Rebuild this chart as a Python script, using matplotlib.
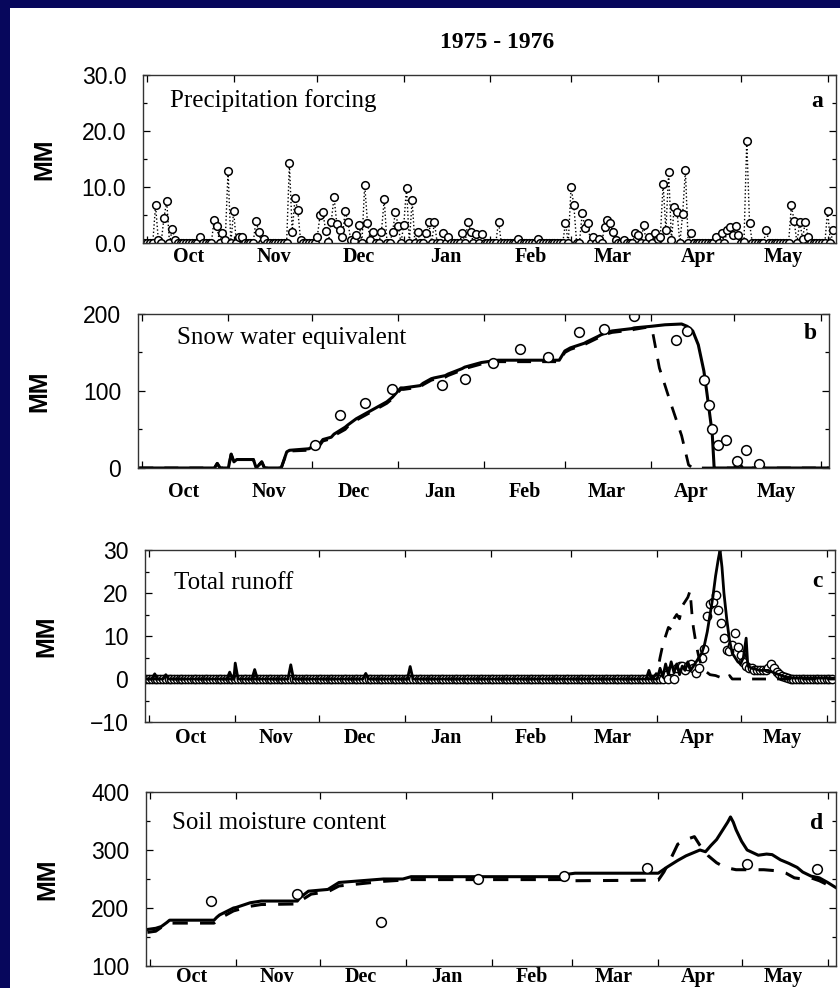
import numpy as np
import matplotlib
matplotlib.use('Agg')
import matplotlib.pyplot as plt
from matplotlib.patches import Rectangle

# day 0 = 1 Oct 1975
month_starts = [0, 31, 61, 92, 123, 152, 183, 213, 244]
month_mids = [15, 45.5, 76, 107, 137.5, 167, 197.5, 228]
month_names = ['Oct', 'Nov', 'Dec', 'Jan', 'Feb', 'Mar', 'Apr', 'May']

# a: precipitation forcing (mm/day), days not listed are dry
precip_days = [3, 4, 6, 7, 9, 10, 19, 24, 25, 27, 28, 29, 31, 33, 34, 39, 40, 42,
               51, 52, 53, 54, 55, 61, 62, 63, 64, 65, 66, 67, 68, 69, 70, 71, 72,
               73, 74, 75, 76, 78, 79, 80, 81, 84, 85, 88, 89, 90, 92, 93, 95, 97,
               100, 101, 103, 106, 108, 113, 115, 116, 118, 120, 126, 133, 140,
               150, 152, 153, 156, 157, 158, 160, 162, 164, 165, 166, 167, 168,
               171, 175, 176, 178, 180, 182, 183, 184, 185, 186, 187, 188, 189,
               190, 192, 193, 195, 204, 206, 208, 209, 210, 211, 212, 214, 215,
               216, 222, 231, 232, 234, 235, 236, 237, 244, 246]
precip_mm = [6.7, 0.5, 4.4, 7.5, 2.5, 0.6, 1.1, 4.1, 3.0, 1.8, 0.6, 12.9, 5.7, 1.1, 1.1, 4.0, 2.0, 0.8,
             14.2, 2.0, 8.0, 5.9, 0.5, 1.1, 5.0, 5.5, 2.2, 0.2, 3.8, 8.2, 3.4, 2.3, 1.1, 5.8, 3.7,
             0.5, 0.3, 1.4, 3.3, 10.4, 3.6, 0.5, 2.0, 2.0, 7.8, 2.0, 5.5, 3.1, 3.2, 9.9, 7.6, 1.9,
             1.7, 3.7, 3.7, 1.8, 1.1, 1.8, 3.8, 2.0, 1.6, 1.6, 3.8, 0.8, 0.8,
             3.6, 10.0, 6.7, 5.3, 2.6, 3.6, 1.1, 0.8, 2.9, 4.1, 3.5, 2.0, 0.5,
             0.5, 1.7, 1.4, 3.2, 1.1, 1.7, 0.8, 1.1, 10.5, 2.3, 12.7, 0.5, 6.5,
             5.6, 5.1, 13.0, 1.7, 1.1, 1.7, 2.4, 2.9, 1.4, 3.1, 1.4, 0.2, 18.3,
             3.5, 2.4, 6.7, 3.9, 3.8, 0.8, 3.8, 1.1, 5.8, 2.3]

# b: snow water equivalent
swe_days = [-1, 26, 27, 28, 31, 32, 33, 34, 40, 41, 43, 44, 50, 52, 53, 60, 62, 64, 65, 68,
            69, 73, 74, 77, 78, 83, 84, 87, 88, 90, 91, 93, 94, 100, 101, 104, 105, 109,
            110, 115, 116, 121, 122, 128, 129, 150, 152, 154, 159, 160, 164, 165, 168,
            169, 176, 177, 183, 188, 194, 196, 198, 200, 202, 203, 205, 205.7, 213, 214.5,
            216, 247]
swe_solid = [0, 0, 6, 0, 0, 18, 8, 11, 11, 0, 8, 0, 0, 21, 23, 25, 30, 32, 37, 40,
             44, 53, 56, 64, 66, 76, 78, 84, 86, 92, 96, 104, 104, 107, 110, 116, 117, 120,
             122, 129, 131, 136, 137, 140, 140, 140, 152, 156, 162, 164, 171, 173, 177,
             178, 181, 182, 184, 186, 187, 184, 178, 160, 126, 100, 45, 0, 0, 7,
             0, 0]
swe_dash_days = [-1, 26, 27, 28, 31, 32, 33, 34, 40, 41, 43, 44, 50, 52, 53, 60, 62, 64, 65, 68,
                 69, 73, 74, 77, 78, 83, 84, 87, 88, 90, 91, 93, 94, 100, 101, 104, 105, 109,
                 110, 115, 116, 121, 122, 128, 129, 150, 152, 154, 159, 160, 164, 165, 168,
                 169, 176, 177, 182, 183.5, 186, 190, 194, 196.5, 198, 247]
swe_dashed = [0, 0, 6, 0, 0, 18, 8, 11, 11, 0, 8, 0, 0, 20, 22, 23, 28, 30, 35, 38,
              42, 50, 54, 62, 64, 74, 76, 82, 84, 90, 94, 102, 102, 105, 108, 114, 115, 118,
              120, 127, 129, 134, 135, 138, 138, 138, 150, 154, 160, 162, 169, 171, 175,
              176, 179, 180, 183, 178, 130, 85, 42, 4, 0, 0]
swe_obs_days = [62, 71, 80, 90, 108, 116, 126, 136, 146, 157, 166, 177, 192, 196, 202, 204,
                205, 207, 210, 214, 217, 222]
swe_obs = [30, 69, 85, 102, 108, 116, 137, 155, 144, 177, 180, 198, 166, 178, 114, 82,
           50, 30, 36, 9, 24, 5]

# c: total runoff
runoff_days = [-1, 1, 2, 3, 5, 6, 7, 28, 29, 30, 30.5, 31, 32, 37, 38, 39, 50, 51, 52, 77,
               78, 79, 93, 94, 95, 179, 180, 181, 183, 184, 185, 186, 187, 188, 189, 190,
               191, 192, 193, 194, 195, 196, 197, 198, 199, 200, 201, 202, 203, 204, 205,
               205.6, 206.3, 207, 208, 209, 210, 211, 212, 213, 214, 215, 215.6, 217, 220,
               223, 226, 229, 232, 247]
runoff_solid = [0, 0, 1.2, 0, 0, 1.0, 0, 0, 1.6, 0, 0, 3.7, 0, 0, 2.2, 0, 0, 3.3, 0, 0,
                1.3, 0, 0, 2.9, 0, 0, 2.0, 0, 0, 2.5, 0.5, 3.5, 1.0, 4.0, 1.5, 3.5,
                1.0, 3.0, 2.0, 4.0, 2.0, 3.0, 4.0, 5.0, 6.0, 8.0, 11, 15, 19, 24, 28,
                30, 26, 20, 14, 9, 6, 5, 4, 3.5, 5, 9.5, 3, 2.5, 2,
                2, 1.2, 0.5, 0.2, 0.2]
runoff_dash_days = [-1, 181, 183, 184, 185, 186, 187, 188, 189, 190, 191, 192, 193, 194,
                    194.8, 195.5, 196, 197, 198, 199, 200, 201, 202, 204, 206, 208, 209,
                    210, 247]
runoff_dashed = [0, 0, 1.5, 5, 8, 10, 12, 11.5, 14, 15, 14, 17, 18, 19,
                 20.5, 15, 12, 8, 5, 3, 2, 1.5, 1, 0.8, 0.3, 0, 0.8,
                 0, 0]
runoff_obs_days = [186, 188, 190, 191, 192, 193, 194, 195, 196, 197, 198, 199, 200, 201,
                   202, 203, 204, 205, 206, 207, 208, 209, 210, 211, 212, 213, 214, 215,
                   216, 217, 218, 219, 220, 221, 222, 223, 224, 225, 226, 227, 228, 229, 230]
runoff_obs = [1, 2, 2.5, 3, 3, 2, 3, 3.5, 2.5, 1.5, 2.5, 5, 7, 14.7,
              17.4, 18, 19.5, 16, 13, 9.5, 6.8, 6.5, 8, 10.6, 7.5, 5.5, 4, 3,
              2.5, 2.5, 2.2, 2, 2, 2, 2.2, 2.5, 3.5, 2.5, 1.7, 1.2, 0.8, 0.5, 0.3]

# d: soil moisture content
soil_days = [-1, 2, 4, 6, 7, 23, 24, 25, 30, 31, 36, 40, 53, 54, 57, 64, 66, 68, 76, 84,
             91, 94, 148, 150, 153, 183, 186, 190, 193, 198, 200, 202, 204, 206, 208,
             209, 210, 211, 213, 215, 219, 222, 224, 227, 230, 233, 235, 238, 241, 244, 247]
soil_solid = [163, 165, 168, 175, 179, 179, 184, 188, 200, 201, 209, 212, 212, 218, 229,
              232, 238, 244, 247, 250, 250, 254, 254, 258, 260, 260, 270, 282, 290, 300,
              297, 308, 318, 333, 348, 357, 348, 335, 315, 300, 291, 293, 292, 283, 277,
              270, 262, 255, 252, 244, 235]
soil_dash_days = [-1, 2, 5, 7, 23, 25, 30, 36, 40, 53, 55, 58, 64, 68, 76, 84, 94, 148,
                  152, 183, 185, 188, 190, 193, 196, 198, 201, 204, 207, 211, 221, 226,
                  229, 232, 235, 238, 241, 244, 247]
soil_dashed = [158, 160, 170, 174, 174, 182, 195, 203, 206, 207, 215, 224, 228, 238, 242,
               246, 249, 249, 247, 248, 262, 290, 310, 318, 323, 308, 290, 278, 270, 266,
               266, 264, 260, 252, 250, 252, 247, 240, 230]
soil_obs_days = [22, 53, 83, 118, 149, 179, 215, 240]
soil_obs = [212, 225, 176, 250, 256, 269, 276, 268]

SERIF = 'Liberation Serif'
SANS = 'Liberation Sans'
navy = '#07075c'

fig = plt.figure(figsize=(8.4, 9.88), dpi=100)
W, H = 840.0, 988.0


def box(left, top, right, bottom):
    return [left / W, 1 - bottom / H, (right - left) / W, (bottom - top) / H]


ax_a = fig.add_axes(box(143, 75, 836, 243))
ax_b = fig.add_axes(box(138, 314, 829, 468))
ax_c = fig.add_axes(box(145, 550, 835, 722))
ax_d = fig.add_axes(box(146, 792, 836, 966))

all_days = np.arange(-1, 247)
rain = np.zeros(len(all_days))
rain[np.array(precip_days) + 1] = precip_mm
ax_a.plot(all_days, rain, ls=':', color='k', lw=1.0, marker='o', ms=5.5,
          mfc='white', mec='k', mew=1.1)

ax_b.plot(swe_days, swe_solid, color='k', lw=2.2)
ax_b.plot(swe_dash_days, swe_dashed, color='k', lw=2.0, dashes=(5, 4))
ax_b.plot(swe_obs_days, swe_obs, ls='none', marker='o', ms=7, mfc='white', mec='k', mew=1.1)

obs_c = np.zeros(len(all_days))
obs_c[np.array(runoff_obs_days) + 1] = runoff_obs
ax_c.plot(all_days, obs_c, ls='none', marker='o', ms=6, mfc='white', mec='k', mew=1.0)
ax_c.plot(runoff_days, runoff_solid, color='k', lw=2.0)
ax_c.plot(runoff_dash_days, runoff_dashed, color='k', lw=2.0, dashes=(5, 4))

ax_d.plot(soil_days, soil_solid, color='k', lw=2.2)
ax_d.plot(soil_dash_days, soil_dashed, color='k', lw=2.2, dashes=(5, 4))
ax_d.plot(soil_obs_days, soil_obs, ls='none', marker='o', ms=7, mfc='white', mec='k', mew=1.1)

setup = [
    (ax_a, (0, 30), [0, 10, 20, 30], ['0.0', '10.0', '20.0', '30.0'], 5, 'Precipitation forcing', 'a', 3, (0.039, 0.85), 0.84),
    (ax_b, (0, 200), [0, 100, 200], ['0', '100', '200'], 50, 'Snow water equivalent', 'b', 10, (0.056, 0.845), 0.875),
    (ax_c, (-10, 30), [-10, 0, 10, 20, 30], ['\u221210', '0', '10', '20', '30'], 5, 'Total runoff', 'c', 4, (0.042, 0.81), 0.815),
    (ax_d, (100, 400), [100, 200, 300, 400], ['100', '200', '300', '400'], 50, 'Soil moisture content', 'd', 1, (0.038, 0.82), 0.82),
]

for ax, ylim, yt, ytl, ym, name, letter, xpad, txy, ly in setup:
    ax.set_xlim(-1.5, 247)
    ax.set_ylim(*ylim)
    ax.set_xticks(month_starts)
    ax.set_xticklabels([])
    ax.set_xticks(month_mids, minor=True)
    ax.set_xticklabels(month_names, minor=True, family=SERIF, fontsize=14.5, fontweight='bold')
    ax.tick_params(axis='x', which='major', direction='in', length=5, width=0.9, top=True)
    ax.tick_params(axis='x', which='minor', length=0, pad=xpad)
    ax.set_yticks(yt)
    ax.set_yticklabels(ytl, family=SANS, fontsize=16.5)
    ax.set_yticks(np.arange(ylim[0] + ym, ylim[1], 2 * ym), minor=True)
    ax.tick_params(axis='y', which='both', direction='in', right=True, width=0.9, pad=12)
    ax.tick_params(axis='y', which='major', length=5)
    ax.tick_params(axis='y', which='minor', length=3)
    for s in ax.spines.values():
        s.set_linewidth(1.0)
        s.set_color('#333333')
    ax.set_ylabel('MM', family=SANS, fontsize=18, fontweight='bold')
    ax.yaxis.set_label_coords(-0.125, 0.5)
    ax.text(txy[0], txy[1], name, transform=ax.transAxes, family=SERIF, fontsize=18,
            ha='left', va='center')
    ax.text(0.982, ly, letter, transform=ax.transAxes, family=SERIF, fontsize=17,
            fontweight='bold', ha='right', va='center')

fig.text(497 / W, 1 - 42 / H, '1975 - 1976', family=SERIF, fontsize=17, fontweight='bold',
         ha='center', va='center')

# dark frame
fig.add_artist(Rectangle((0, 1 - 8 / H), 1, 8 / H, transform=fig.transFigure, color=navy, lw=0))
fig.add_artist(Rectangle((0, 0), 10 / W, 1, transform=fig.transFigure, color=navy, lw=0))

fig.savefig('out.png', dpi=100)
